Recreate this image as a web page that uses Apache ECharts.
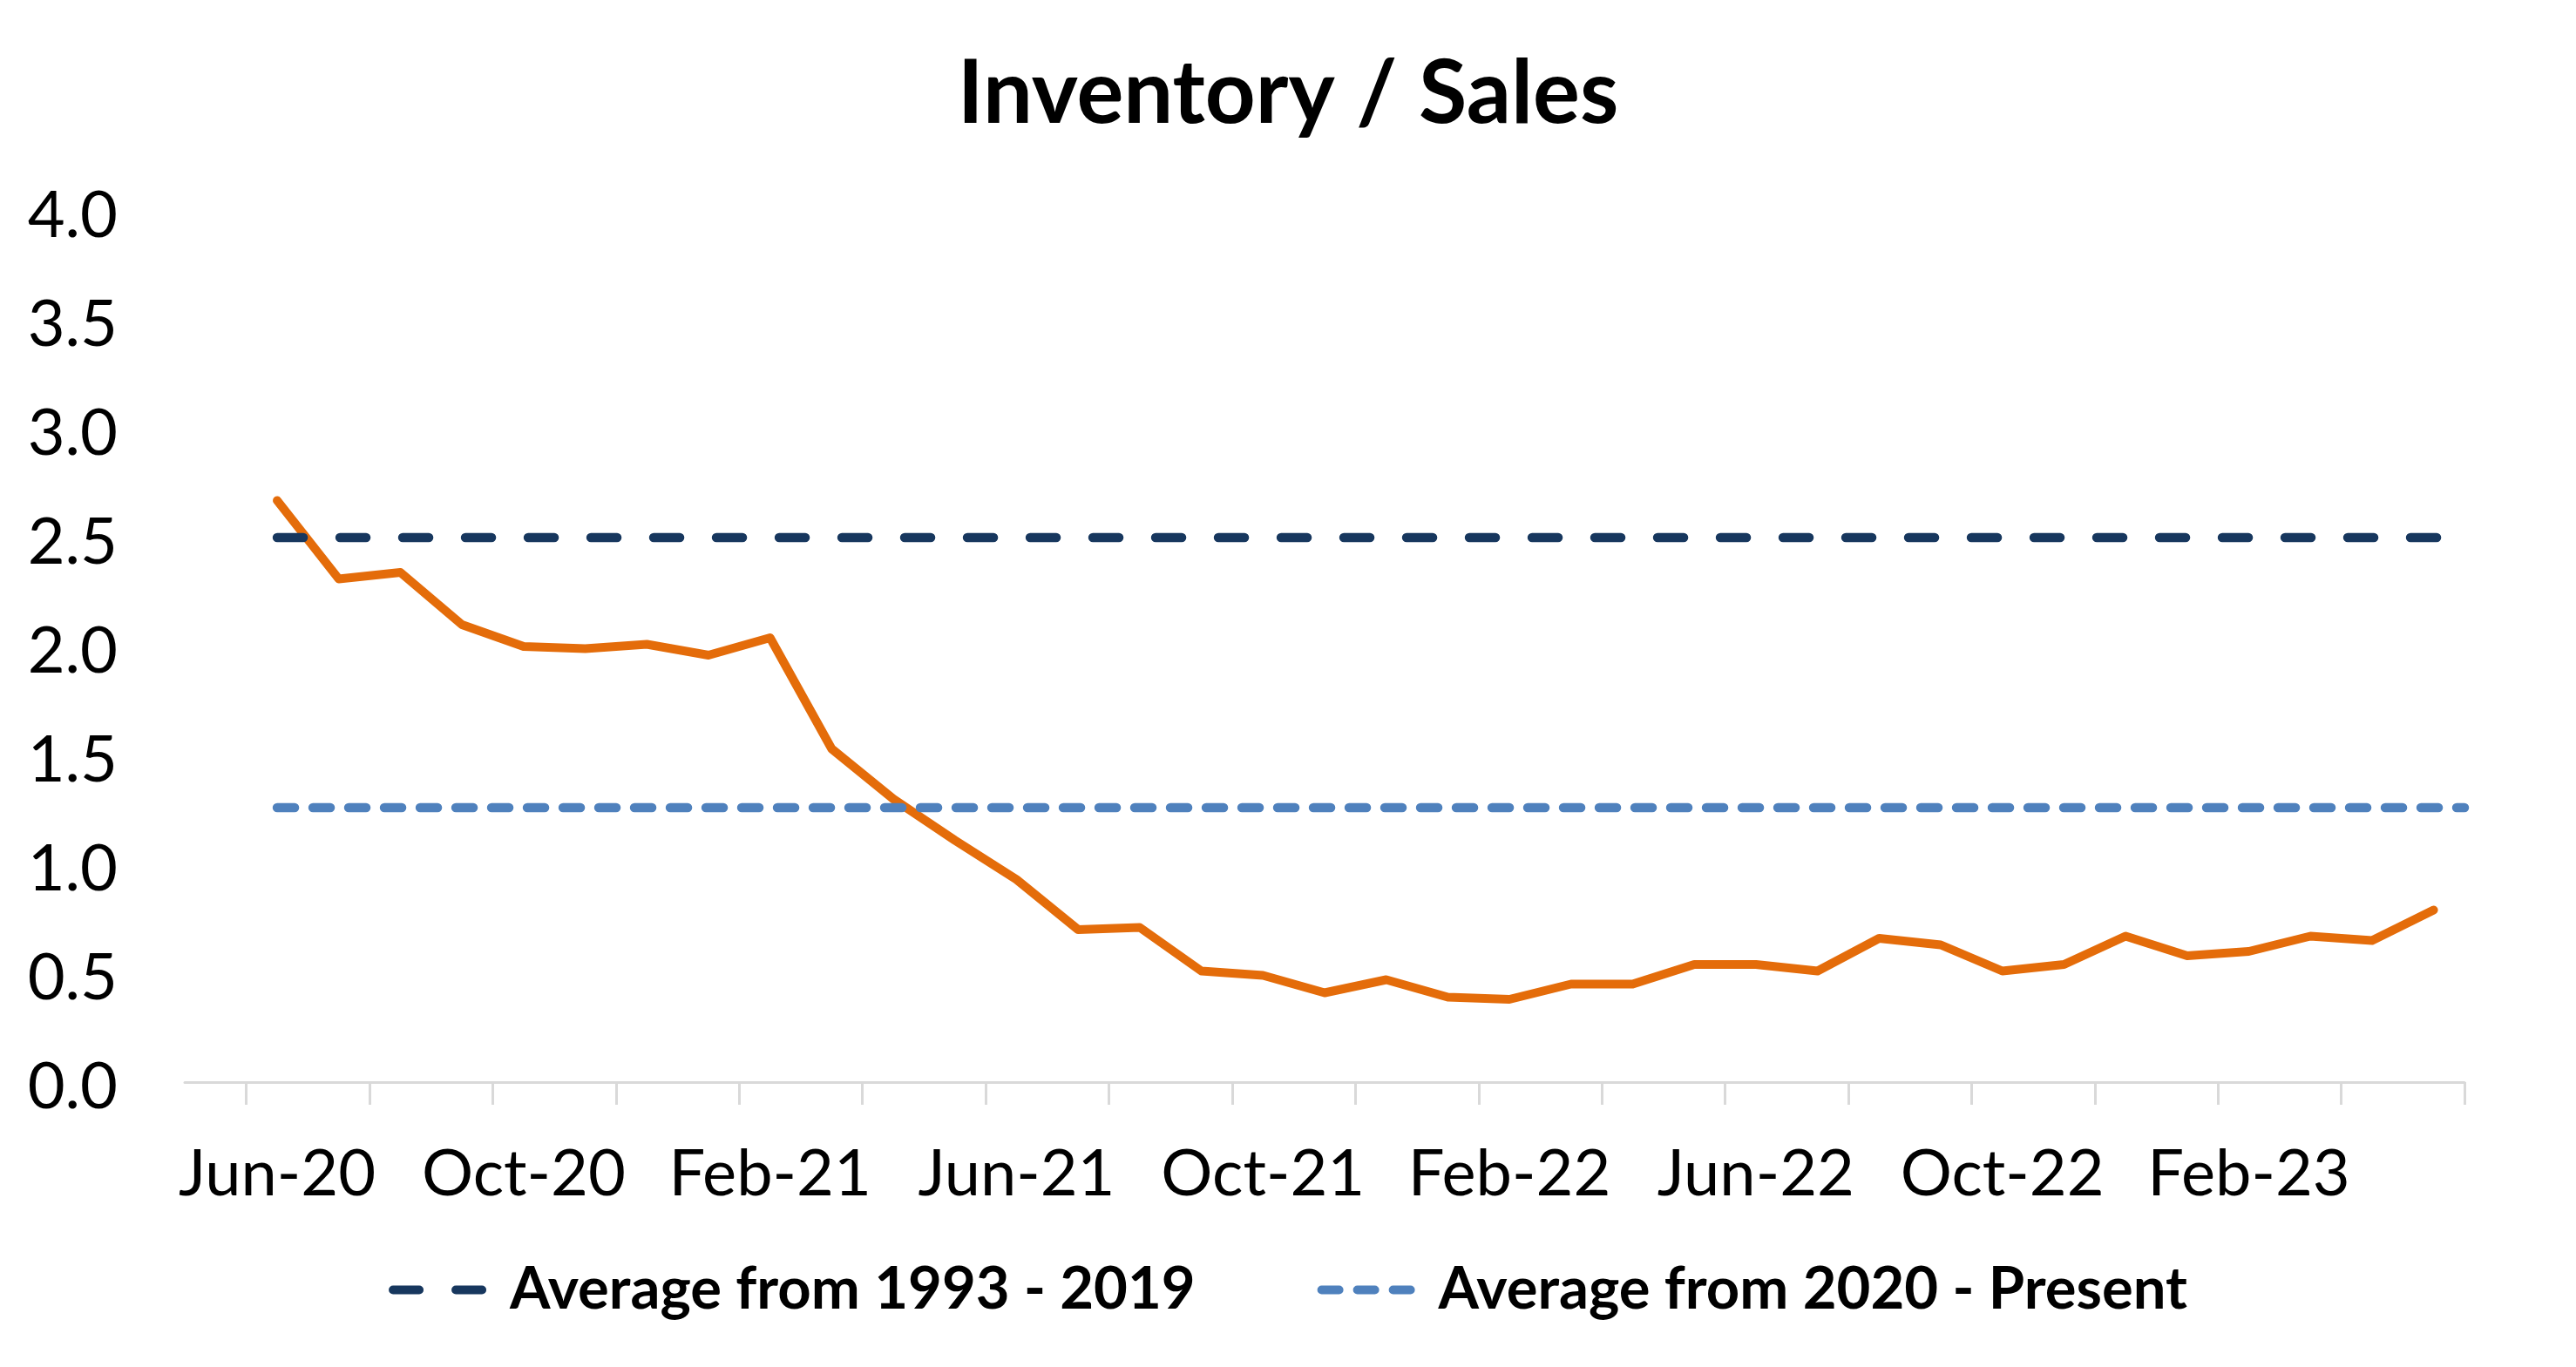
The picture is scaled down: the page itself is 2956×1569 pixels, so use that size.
<!DOCTYPE html>
<html>
<head>
<meta charset="utf-8">
<script src="https://cdn.jsdelivr.net/npm/echarts@6/dist/echarts.min.js"></script>
<style>
html,body{margin:0;padding:0;background:#fff;}
#chart{width:2956px;height:1569px;}
</style>
</head>
<body>
<div id="chart"></div>
<script>
// Categories (first band is an empty month before the data starts)
const categories = ['May-20','Jun-20','Jul-20','Aug-20','Sep-20','Oct-20','Nov-20','Dec-20',
  'Jan-21','Feb-21','Mar-21','Apr-21','May-21','Jun-21','Jul-21','Aug-21','Sep-21','Oct-21','Nov-21','Dec-21',
  'Jan-22','Feb-22','Mar-22','Apr-22','May-22','Jun-22','Jul-22','Aug-22','Sep-22','Oct-22','Nov-22','Dec-22',
  'Jan-23','Feb-23','Mar-23','Apr-23','May-23'];
const inventorySales = [null,2.67,2.31,2.34,2.10,2.00,1.99,2.01,1.96,2.04,1.53,1.30,1.11,0.93,0.70,0.71,
  0.51,0.49,0.41,0.47,0.39,0.38,0.45,0.45,0.54,0.54,0.51,0.66,0.63,0.51,0.54,0.67,0.58,0.60,0.67,0.65,0.79];
const avgName1 = 'Average from 1993 - 2019';
const avgName2 = 'Average from 2020 - Present';
const avg1993_2019 = 2.5;
const avg2020_present = 1.26;
const yTicks = [0, 0.5, 1, 1.5, 2, 2.5, 3, 3.5, 4];

const startIdx = categories.indexOf('Jun-20');
function avgLine(v){ return [[startIdx + 0.5, v], [categories.length, v]]; }

const FONT = 'Lato';
const chart = echarts.init(document.getElementById('chart'));
chart.setOption({
  animation: false,
  backgroundColor: '#ffffff',
  title: {
    text: 'Inventory / Sales',
    left: 'center',
    top: 53,
    textStyle: {fontFamily: FONT, fontWeight: 'bold', fontSize: 101, color: '#000'}
  },
  legend: {
    data: [avgName1, avgName2],
    bottom: 50,
    left: 'center',
    itemWidth: 113,
    itemHeight: 20,
    itemGap: 140,
    itemStyle: {opacity: 0},
    lineStyle: {width: 10, cap: 'round'},
    textStyle: {fontFamily: FONT, fontWeight: 'bold', fontSize: 67, color: '#000', padding: [0,0,0,16]}
  },
  grid: {left: 212, right: 128, top: 242, bottom: 327, containLabel: false},
  xAxis: [{
    type: 'category',
    data: categories,
    boundaryGap: true,
    axisLine: {lineStyle: {color: '#D9D9D9', width: 3}},
    axisTick: {show: true, length: 26, lineStyle: {color: '#D9D9D9', width: 3},
      interval: function(i){ return i % 2 === 1; }},
    axisLabel: {fontFamily: FONT, fontSize: 74, color: '#000', margin: 69,
      interval: function(i){ return i % 4 === 1; }},
    splitLine: {show: false}
  }, {
    type: 'value', min: 0, max: categories.length, show: false
  }],
  yAxis: {
    type: 'value',
    min: yTicks[0], max: yTicks[yTicks.length-1], interval: 0.5,
    axisLine: {show: false}, axisTick: {show: false}, splitLine: {show: false},
    axisLabel: {fontFamily: FONT, fontSize: 74, color: '#000', margin: 77,
      formatter: function(v){ return '{v|' + v.toFixed(1) + '}'; },
      rich: {v: {fontFamily: FONT, fontSize: 74, color: '#000', padding: [12,0,0,0]}}}
  },
  series: [{
    name: 'Inventory / Sales',
    type: 'line',
    data: inventorySales,
    symbol: 'none',
    lineStyle: {color: '#E46C0A', width: 10, cap: 'round', join: 'round'},
    itemStyle: {color: '#E46C0A'},
    z: 2
  }, {
    name: avgName1,
    type: 'line',
    xAxisIndex: 1,
    data: avgLine(avg1993_2019),
    symbol: 'none',
    lineStyle: {color: '#17375E', width: 10.5, type: [30, 42], cap: 'round'},
    itemStyle: {color: '#17375E'},
    z: 3
  }, {
    name: avgName2,
    type: 'line',
    xAxisIndex: 1,
    data: avgLine(avg2020_present),
    symbol: 'none',
    lineStyle: {color: '#4F81BD', width: 10.5, type: [20, 21], cap: 'round'},
    itemStyle: {color: '#4F81BD'},
    z: 3
  }]
});
</script>
</body>
</html>
